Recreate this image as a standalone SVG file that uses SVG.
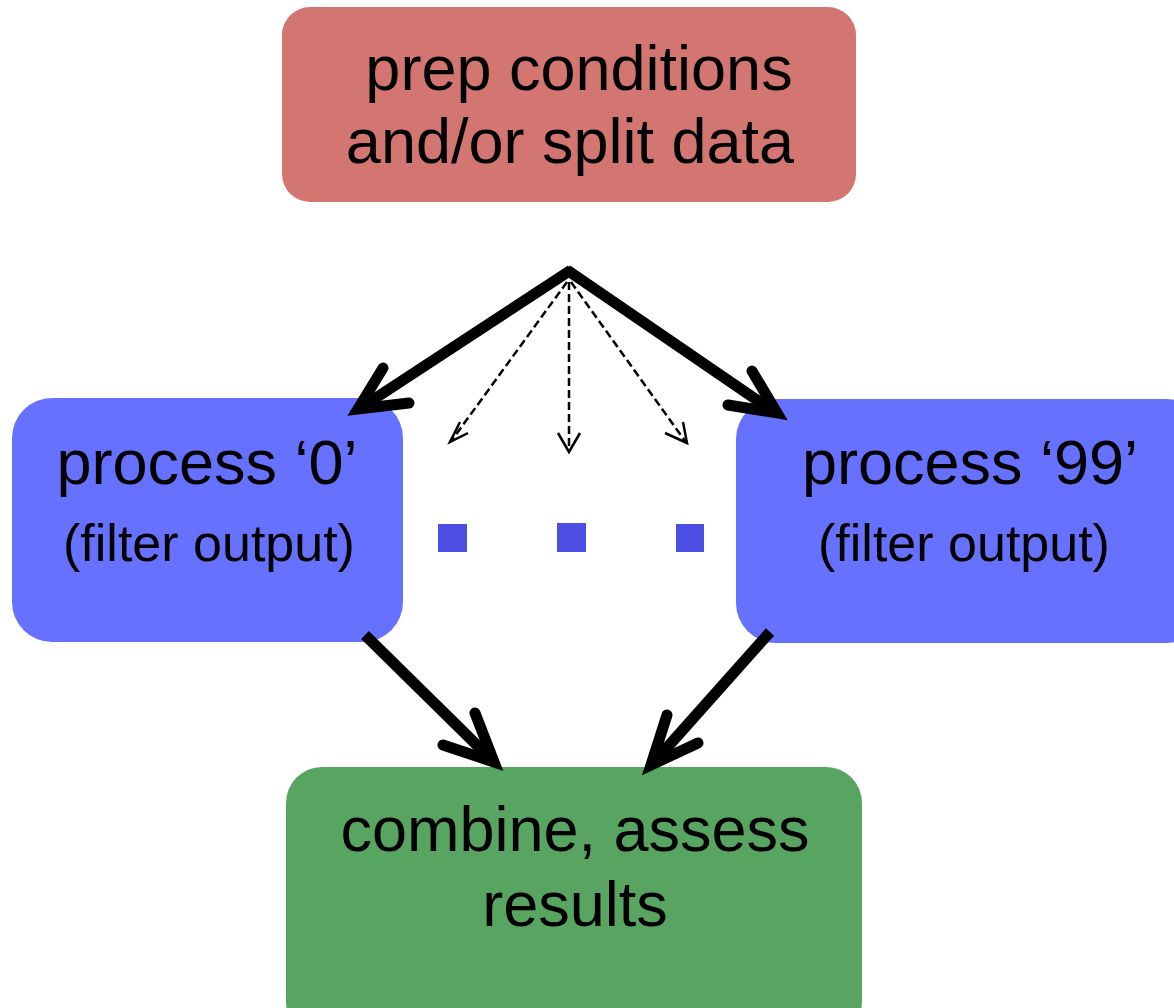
<svg xmlns="http://www.w3.org/2000/svg" width="1174" height="1008" viewBox="0 0 1174 1008">
<style>
.lbl{font-family:"Liberation Sans",Arial,sans-serif;fill:#000;text-anchor:middle}
.big{font-size:63px}
.small{font-size:52px}
.thick{fill:none;stroke:#000;stroke-width:11;stroke-linecap:round;stroke-linejoin:miter}
.shaft{fill:none;stroke:#000;stroke-width:11;stroke-linecap:butt}
.dash{fill:none;stroke:#000;stroke-width:2.5;stroke-dasharray:8 4}
.dhead{fill:none;stroke:#000;stroke-width:2.5;stroke-linejoin:miter}
</style>
<rect width="1174" height="1008" fill="#fff"/>
<g id="prep">
<rect x="282" y="7" width="574" height="195" rx="28" fill="#d37671"/>
<text class="lbl big" x="579" y="90">prep conditions</text>
<text class="lbl big" x="570" y="163">and/or split data</text>
</g>
<g id="process0">
<rect x="12" y="398" width="391" height="244" rx="40" fill="#6771ff"/>
<text class="lbl big" x="207" y="484">process ‘0’</text>
<text class="lbl small" x="209" y="561">(filter output)</text>
</g>
<g id="process99">
<rect x="736" y="399" width="470" height="244" rx="40" fill="#6771ff"/>
<text class="lbl big" x="970" y="484">process ‘99’</text>
<text class="lbl small" x="964" y="561">(filter output)</text>
</g>
<g id="combine">
<rect x="286" y="767" width="576" height="270" rx="36" fill="#57a560"/>
<text class="lbl big" x="575" y="851">combine, assess</text>
<text class="lbl big" x="575" y="926">results</text>
</g>
<g id="dots" fill="#4c4ee4">
<rect x="438" y="524" width="29" height="28"/>
<rect x="557" y="523" width="29" height="29"/>
<rect x="676" y="524" width="28" height="28"/>
</g>
<g id="connectors">
<path class="shaft" d="M571,270 L365,405"/>
<path class="thick" d="M383,368 L358,409 L409,403"/>
<path class="shaft" d="M567,270 L770,409"/>
<path class="thick" d="M752,371 L777,413 L728,405"/>
<path class="dash" d="M567,282 L452,440"/>
<path class="dhead" d="M460,422 L450,442 L468,433"/>
<path class="dash" d="M569,282 L569,450"/>
<path class="dhead" d="M558,433 L569,452 L580,433"/>
<path class="dash" d="M571,282 L685,441"/>
<path class="dhead" d="M683,422 L687,443 L665,433"/>
<path class="shaft" d="M365,635 L489,757"/>
<path class="thick" d="M475,713 L494,762 L443,745"/>
<path class="shaft" d="M770,632 L656,760"/>
<path class="thick" d="M667,715 L651,765 L698,743"/>
</g>
</svg>
